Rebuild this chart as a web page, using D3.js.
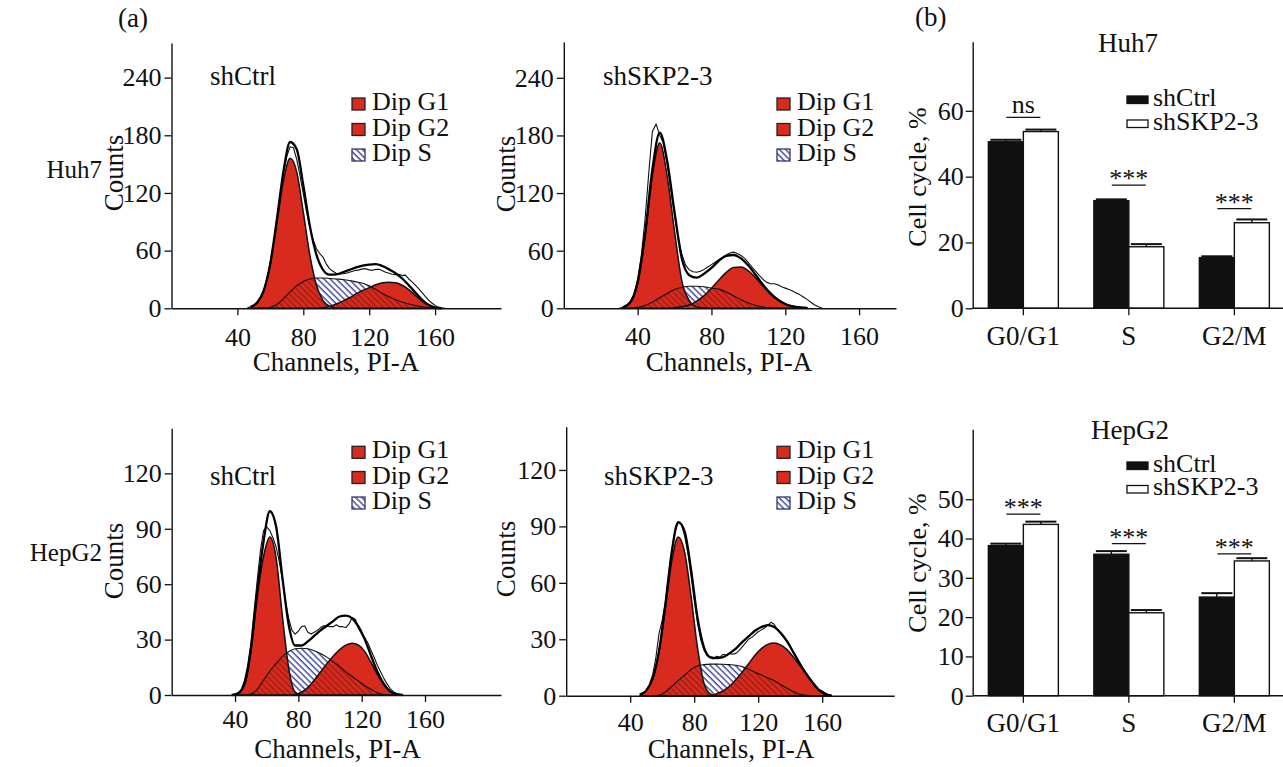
<!DOCTYPE html>
<html>
<head>
<meta charset="utf-8">
<script src="https://cdn.jsdelivr.net/npm/d3@7"></script>
<style>
  html, body { margin: 0; padding: 0; background: #fff; }
  svg { display: block; }
</style>
</head>
<body>
<svg id="fig" width="1283" height="767"></svg>
<script>
// ---------- DNA histograms (ModFit-style deconvolution) ----------
const channelTicks = [40, 80, 120, 160];
const huh7CountTicks = [0, 60, 120, 180, 240];
const hepCountTicks = [0, 30, 60, 90, 120];
const legendLabels = ['Dip G1', 'Dip G2', 'Dip S'];
const rowLabels = ['Huh7', 'HepG2'];

// Huh7 shCtrl
const huh7CtrlCh  = [48,52,56,60,64,68,72,76,80,84,88,92,96,100,104,108,112,116,120,124,128,132,136,140,144,148,152,156,160,164];
const huh7CtrlG1  = [1.4,6,18.5,46,89,133,156,142,100,55,24,8,2,0.3,0,0,0,0,0,0,0,0,0,0,0,0,0,0,0,0];
const huh7CtrlS   = [0,0,0,1,4,10,17,23.5,28,30.5,31.5,31.5,31,30.5,30,29,27.5,26,23.5,19.5,15.5,12,9,6.5,4.5,3,1.6,0.6,0,0];
const huh7CtrlG2  = [0,0,0,0,0,0,0,0,0,0,0,0.5,2,4.5,7.5,11,15,18.5,21.5,24.5,26.5,27,26.5,24,19.5,13.5,7.5,3,0.8,0];
const huh7CtrlFit = [1.4,6,18.5,47,93,143,173,165.5,128,85.5,55.5,40,35,35.3,37.5,40,42.5,44.5,45.5,46,44,40.5,36.5,31,24,16.5,9.1,3.6,0.8,0];
const huh7CtrlRawCh = [46,48,50,52,54,56,58,60,62,64,66,68,70,72,74,76,78,80,82,84,86,88,90,92,94,96,98,100,102,104,106,108,110,112,114,116,118,120,122,124,126,128,130,132,134,136,138,140,142,144,146,148,150,152,154,156,158,160,162,164,166];
const huh7CtrlRaw   = [0.5,1.5,3,6,11,19,31,47,69,93,119,141,158,168,167,155,138,119,100,84,71,62,57,53,46,41,38.5,36.5,35.5,36,36.5,37.5,38.5,39.5,40,41,41,40,39.5,40.5,40.5,39,37.5,36.5,35.5,35,35.5,34,34.5,30.5,27.5,24,20.5,16.5,12.5,8.5,5.5,3,1.2,0.5,0];

// Huh7 shSKP2-3
const huh7SkpCh  = [32,36,40,44,48,52,56,60,64,68,72,76,80,84,88,92,96,100,104,108,112,116,120,124,128,132];
const huh7SkpG1  = [0.9,6,26,74,138,172,138,80,28,8,1.5,0.2,0,0,0,0,0,0,0,0,0,0,0,0,0,0];
const huh7SkpS   = [0,0,1,3,6.5,11,15.5,19.5,22,23,23,22.5,21,20,17,13,9,5.5,3,1.4,0.6,0.2,0,0,0,0];
const huh7SkpG2  = [0,0,0,0,0,0,0,0.6,1.5,3.5,7.5,13.2,20.9,29.5,37.4,42.4,43,39,31.7,23,15,8.7,4.5,2.1,0.9,0.3];
const huh7SkpFit = [0.9,6,27,77,144.5,183,153.5,100,51.5,34.5,32,36,42,49.5,54.5,55.5,52,44.5,34.7,24.4,15.6,8.9,4.5,2.1,0.9,0.3];
const huh7SkpRawCh = [30,32,34,36,38,40,42,44,46,48,50,52,54,56,58,60,62,64,66,68,70,72,74,76,78,80,82,84,86,88,90,92,94,96,98,100,102,104,106,108,110,112,114,116,118,120,122,124,126,128,130,132,134,136,138,140];
const huh7SkpRaw   = [0,1,3,7,15,30,55,92,140,184,192,180,172,150,124,98,73,56,45,40,38,37.5,38.5,40.5,43,45.5,48,50.5,53,55.5,57.5,58.5,57,55,52,47.5,43,38.5,34,30,27,25.5,25.5,24.5,22.5,21,19.5,18,16,14,11.5,9,6,3.5,1.5,0];

// HepG2 shCtrl
const hepCtrlCh  = [38,42,46,50,54,58,62,66,70,74,78,82,86,90,94,98,102,106,110,114,118,122,126,130,134,138,142,146];
const hepCtrlG1  = [0,1,6,24,53,75,85.5,74,42,14,1.5,0,0,0,0,0,0,0,0,0,0,0,0,0,0,0,0,0];
const hepCtrlS   = [0,0,0,0.5,3,8,13,17,21,23.5,25,25.3,25,24,22.5,20.5,18,15.5,12.5,10,7.5,5,3,1.2,0.3,0,0,0];
const hepCtrlG2  = [0,0,0,0,0,0,0,0,0,0,0.3,1.5,4,8,12.5,17,21,24.5,27,28,27,23.5,17.5,11,5.5,2,0.5,0];
const hepCtrlFit = [0,1,6,24.5,56,83,99.5,91,63,37.5,26.8,26.8,29,32,35,37.5,40,42.5,43,41.5,37,30,21,12.5,6,2,0.5,0];
const hepCtrlRawCh = [40,42,44,46,48,50,52,54,56,58,60,62,64,66,68,70,72,74,76,78,80,82,84,86,88,90,92,94,96,98,100,102,104,106,108,110,112,114,116,118,120,122,124,126,128,130,132,134,136,138,140,142,144,146];
const hepCtrlRaw   = [0,1,3,8,16,28,45,62,78,89,91,89,85,80,72,62,50,41,35,33,34.5,37,37.5,34,33,34,35,36.5,37.5,37.5,37,37,38,37,37,36.5,38.5,42,41,36,33,31,28,24,20,16,12.5,9,6,3.5,1.8,0.8,0.3,0];

// HepG2 shSKP2-3
const hepSkpCh  = [46,50,54,58,62,66,70,74,78,82,86,90,94,98,102,106,110,114,118,122,126,130,134,138,142,146,150,154,158,162,166];
const hepSkpG1  = [0.6,2.7,9,23.4,46.6,71.6,84.3,76.4,53.2,26,7,1,0,0,0,0,0,0,0,0,0,0,0,0,0,0,0,0,0,0,0];
const hepSkpS   = [0,0,0,0.3,2,5,8,11,14,15.8,16.5,16.8,16.8,16.7,16.5,16.2,15.5,14,12.5,11,9.5,8,6,4,2.2,0.8,0.2,0,0,0,0];
const hepSkpG2  = [0,0,0,0,0,0,0,0,0,0,0,0,1,2.5,5,8.5,12.5,17,21.5,25,27.3,28,27,24.5,20.5,16,11.5,7,3,0.8,0];
const hepSkpFit = [0.6,2.7,9,23.7,48.6,76.6,92.3,87.4,67.2,41.8,26,20.5,20,20.5,22.5,25,28.5,31.5,34.5,36.5,37.5,36.5,33.5,29,23,17,11.7,7,3,0.8,0];
const hepSkpRawCh = [46,48,50,52,54,56,58,60,62,64,66,68,70,72,74,76,78,80,82,84,86,88,90,92,94,96,98,100,102,104,106,108,110,112,114,116,118,120,122,124,126,128,130,132,134,136,138,140,142,144,146,148,150,152,154,156,158,160,162,164,166];
const hepSkpRaw   = [0,1,3,6,11,20,33,40,50,64,77,87,92,91,85,76,64,51,39,30,24.5,21.5,20,19.5,21,20.5,22,21.5,22.5,22,22.5,24,26,28,30,31,32.5,34,35,36,37.5,39,38,35,33,31,28.5,26,23,20.5,17.5,14.5,11.5,9,7,5,3.5,2.5,1.5,0.5,0];

// ---------- Cell-cycle bar charts ----------
const phases = ['G0/G1', 'S', 'G2/M'];
const groups = ['shCtrl', 'shSKP2-3'];
const huh7Ctrl = [50.6, 32.7, 15.4];
const huh7CtrlErr = [0.6, 0.4, 0.4];
const huh7Skp = [53.7, 18.7, 26.0];
const huh7SkpErr = [0.6, 0.8, 1.0];
const huh7Sig = ['ns', '***', '***'];
const huh7SigAt = [58, 37.4, 30.3];
const huh7PctTicks = [0, 20, 40, 60];

const hepCtrl = [38.2, 36.0, 25.1];
const hepCtrlErr = [0.5, 0.8, 1.0];
const hepSkp = [43.6, 21.1, 34.3];
const hepSkpErr = [0.7, 0.7, 0.7];
const hepSig = ['***', '***', '***'];
const hepSigAt = [46.2, 38.7, 36.1];
const hepPctTicks = [0, 10, 20, 30, 40, 50];

// ---------- drawing ----------
const RED = '#d82a1e';
const FONT = '"Liberation Serif", "Times New Roman", serif';
const INK = '#111';

const svg = d3.select('#fig').attr('font-family', FONT);
const defs = svg.append('defs');

function hatch(id, color, bg, w) {
  const s = 4.4;
  const p = defs.append('pattern').attr('id', id)
    .attr('patternUnits', 'userSpaceOnUse')
    .attr('width', s).attr('height', s)
    .attr('patternTransform', 'rotate(-45)');
  if (bg) p.append('rect').attr('width', s).attr('height', s).attr('fill', bg);
  p.append('line').attr('x1', 1).attr('y1', 0).attr('x2', 1).attr('y2', s)
    .attr('stroke', color).attr('stroke-width', w);
}
hatch('hatchBlue', '#2f3393', '#fff', 1.3);
hatch('hatchRed', '#86170f', null, 1.0);

function txt(g, x, y, s, size, anchor) {
  return g.append('text').attr('x', x).attr('y', y).text(s)
    .attr('font-size', size).attr('fill', INK)
    .attr('text-anchor', anchor || 'start');
}

function styleAxis(ax, size) {
  ax.attr('font-family', FONT).attr('font-size', size);
  ax.select('.domain').attr('stroke', INK).attr('stroke-width', 1.4);
  ax.selectAll('.tick line').attr('stroke', INK).attr('stroke-width', 1.3);
  ax.selectAll('.tick text').attr('fill', INK);
}

function drawHist(d, L) {
  const x = d3.scaleLinear().domain([0, L.xMax]).range([L.left, L.right]);
  const y = d3.scaleLinear().domain([0, L.yMax]).range([L.bottom, L.top]);
  const g = svg.append('g');
  const pts = d.ch.map((c, i) => ({ c, g1: d.g1[i], s: d.s[i], g2: d.g2[i], fit: d.fit[i] }));
  const area = k => d3.area().curve(d3.curveMonotoneX)
    .x(p => x(p.c)).y0(y(0)).y1(p => y(p[k]))(pts);
  const line = k => d3.line().curve(d3.curveMonotoneX)
    .x(p => x(p.c)).y(p => y(p[k]))(pts);

  // S phase (hatched), then G1 / G2 in red, then S hatching over the red overlap
  g.append('path').attr('d', area('s')).attr('fill', 'url(#hatchBlue)');
  g.append('path').attr('d', area('g1')).attr('fill', RED);
  g.append('path').attr('d', area('g2')).attr('fill', RED);
  const clipId = L.id + '-gclip';
  const cp = defs.append('clipPath').attr('id', clipId);
  cp.append('path').attr('d', area('g1'));
  cp.append('path').attr('d', area('g2'));
  g.append('path').attr('d', area('s')).attr('fill', 'url(#hatchRed)')
    .attr('clip-path', `url(#${clipId})`);

  // component outlines
  [['s', 1.1], ['g1', 1.5], ['g2', 1.5]].forEach(([k, w]) => {
    g.append('path').attr('d', line(k)).attr('fill', 'none')
      .attr('stroke', INK).attr('stroke-width', w);
  });

  // raw histogram
  const raw = d.rawCh.map((c, i) => [c, d.raw[i]]);
  g.append('path').attr('d', d3.line().x(p => x(p[0])).y(p => y(p[1]))(raw))
    .attr('fill', 'none').attr('stroke', INK).attr('stroke-width', 1.1)
    .attr('stroke-linejoin', 'round');

  // model fit
  g.append('path').attr('d', line('fit')).attr('fill', 'none')
    .attr('stroke', '#000').attr('stroke-width', 2.3);

  // axes
  const ax = g.append('g').attr('transform', `translate(0,${L.bottom})`)
    .call(d3.axisBottom(x).tickValues(channelTicks).tickSize(7).tickSizeOuter(0));
  styleAxis(ax, 26);
  ax.selectAll('.tick text').attr('y', L.xTickY - L.bottom).attr('dy', 0);

  const ay = g.append('g').attr('transform', `translate(${L.left},0)`)
    .call(d3.axisLeft(y).tickValues(L.yTicks).tickSize(7).tickSizeOuter(0).tickPadding(3));
  styleAxis(ay, 26);

  txt(g, L.xLabelX, L.xLabelY, 'Channels, PI-A', 27, 'middle');
  txt(g, 0, 0, 'Counts', 27, 'middle')
    .attr('transform', `translate(${L.yLabelX},${L.yLabelY}) rotate(-90)`);

  txt(g, L.titleX, L.titleY, L.title, 27);

  legendLabels.forEach((s, i) => {
    const by = L.legendY[i];
    g.append('rect').attr('x', L.legendX).attr('y', by - 12).attr('width', 13).attr('height', 12)
      .attr('fill', i < 2 ? RED : 'url(#hatchBlue)')
      .attr('stroke', i < 2 ? '#222' : '#33346a').attr('stroke-width', 1.3);
    txt(g, L.legendX + 20, by, s, 26);
  });
}

function drawBars(d, L) {
  const x0 = d3.scaleBand().domain(phases).range([L.bandLeft, L.bandRight]);
  const x1 = d3.scaleBand().domain(groups).range([-35, 35]);
  const y = d3.scaleLinear().domain([0, L.yMax]).range([L.bottom, L.top]);
  const g = svg.append('g');
  const cx = p => x0(p) + x0.bandwidth() / 2;

  const series = [
    { key: groups[0], vals: d.ctrl, err: d.ctrlErr, fill: '#111' },
    { key: groups[1], vals: d.skp, err: d.skpErr, fill: '#fff' }
  ];
  series.forEach(s => {
    phases.forEach((p, i) => {
      const bx = cx(p) + x1(s.key);
      const bw = x1.bandwidth();
      g.append('rect').attr('x', bx).attr('y', y(s.vals[i]))
        .attr('width', bw).attr('height', y(0) - y(s.vals[i]))
        .attr('fill', s.fill).attr('stroke', INK).attr('stroke-width', 1.4);
      const top = y(s.vals[i] + s.err[i]);
      g.append('line').attr('x1', bx + bw / 2).attr('x2', bx + bw / 2)
        .attr('y1', y(s.vals[i])).attr('y2', top)
        .attr('stroke', INK).attr('stroke-width', 1.4);
      g.append('line').attr('x1', bx + 2).attr('x2', bx + bw - 2)
        .attr('y1', top).attr('y2', top)
        .attr('stroke', INK).attr('stroke-width', 2);
    });
  });

  // significance brackets
  phases.forEach((p, i) => {
    const ly = y(d.sigAt[i]);
    g.append('line').attr('x1', cx(p) - 17).attr('x2', cx(p) + 17)
      .attr('y1', ly).attr('y2', ly).attr('stroke', INK).attr('stroke-width', 1.3);
    const star = d.sig[i] !== 'ns';
    txt(g, cx(p), star ? ly + 2 : ly - 4, d.sig[i], 26, 'middle');
  });

  // axes
  const ay = g.append('g').attr('transform', `translate(${L.axisX},0)`)
    .call(d3.axisLeft(y).tickValues(d.ticks).tickSize(7).tickSizeOuter(0).tickPadding(2));
  styleAxis(ay, 26);

  const ax = g.append('g').attr('transform', `translate(0,${L.bottom})`)
    .call(d3.axisBottom(x0).tickSize(7).tickSizeOuter(0));
  styleAxis(ax, 27);
  ax.select('.domain').remove();
  ax.selectAll('.tick text').attr('y', L.catY - L.bottom).attr('dy', 0);
  g.append('line').attr('x1', L.axisX).attr('x2', L.axisRight)
    .attr('y1', L.bottom).attr('y2', L.bottom)
    .attr('stroke', INK).attr('stroke-width', 1.4);

  txt(g, 0, 0, 'Cell cycle, %', 26, 'middle')
    .attr('transform', `translate(${L.yLabelX},${L.yLabelY}) rotate(-90)`);
  txt(g, L.titleX, L.titleY, d.title, 27, 'middle');

  // legend
  series.forEach((s, i) => {
    const ly = L.legendY[i];
    g.append('rect').attr('x', L.legendX).attr('y', ly - 9.5).attr('width', 21).attr('height', 7.5)
      .attr('fill', s.fill).attr('stroke', INK).attr('stroke-width', 1.3);
    txt(g, L.legendX + 26, ly, s.key, 26);
  });
}

// histogram panels
drawHist(
  { ch: huh7CtrlCh, g1: huh7CtrlG1, s: huh7CtrlS, g2: huh7CtrlG2, fit: huh7CtrlFit, rawCh: huh7CtrlRawCh, raw: huh7CtrlRaw },
  { id: 'h1', left: 171.5, right: 501, xMax: 200, bottom: 308.3, top: 43, yMax: 276, yTicks: huh7CountTicks,
    xTickY: 346, xLabelX: 336, xLabelY: 371, yLabelX: 122.5, yLabelY: 173,
    title: 'shCtrl', titleX: 210, titleY: 85, legendX: 352, legendY: [110, 135.5, 161] });
drawHist(
  { ch: huh7SkpCh, g1: huh7SkpG1, s: huh7SkpS, g2: huh7SkpG2, fit: huh7SkpFit, rawCh: huh7SkpRawCh, raw: huh7SkpRaw },
  { id: 'h2', left: 563.8, right: 896, xMax: 180, bottom: 308.3, top: 42, yMax: 277.3, yTicks: huh7CountTicks,
    xTickY: 345, xLabelX: 729, xLabelY: 371, yLabelX: 514.5, yLabelY: 174,
    title: 'shSKP2-3', titleX: 603, titleY: 85, legendX: 777, legendY: [110, 135.5, 161] });
drawHist(
  { ch: hepCtrlCh, g1: hepCtrlG1, s: hepCtrlS, g2: hepCtrlG2, fit: hepCtrlFit, rawCh: hepCtrlRawCh, raw: hepCtrlRaw },
  { id: 'h3', left: 171.7, right: 501, xMax: 208, bottom: 695, top: 428.3, yMax: 144.4, yTicks: hepCountTicks,
    xTickY: 728, xLabelX: 337.5, xLabelY: 758, yLabelX: 122.5, yLabelY: 561,
    title: 'shCtrl', titleX: 210, titleY: 485, legendX: 352, legendY: [458.3, 483.5, 509] });
drawHist(
  { ch: hepSkpCh, g1: hepSkpG1, s: hepSkpS, g2: hepSkpG2, fit: hepSkpFit, rawCh: hepSkpRawCh, raw: hepSkpRaw },
  { id: 'h4', left: 566.2, right: 894.2, xMax: 205, bottom: 695.7, top: 426.7, yMax: 143, yTicks: hepCountTicks,
    xTickY: 731, xLabelX: 731, xLabelY: 758, yLabelX: 514.5, yLabelY: 559,
    title: 'shSKP2-3', titleX: 604, titleY: 485, legendX: 777, legendY: [458.3, 483.5, 509] });

// bar panels
drawBars(
  { ctrl: huh7Ctrl, ctrlErr: huh7CtrlErr, skp: huh7Skp, skpErr: huh7SkpErr, sig: huh7Sig, sigAt: huh7SigAt,
    ticks: huh7PctTicks, title: 'Huh7' },
  { bandLeft: 970.6, bandRight: 1287.1, axisX: 972.7, axisRight: 1283, bottom: 308.3, top: 41.7, yMax: 81,
    catY: 345, yLabelX: 926, yLabelY: 177, titleX: 1128, titleY: 51.5,
    legendX: 1127, legendY: [105.5, 129.5] });
drawBars(
  { ctrl: hepCtrl, ctrlErr: hepCtrlErr, skp: hepSkp, skpErr: hepSkpErr, sig: hepSig, sigAt: hepSigAt,
    ticks: hepPctTicks, title: 'HepG2' },
  { bandLeft: 970.6, bandRight: 1287.1, axisX: 972.7, axisRight: 1283, bottom: 695.7, top: 429.3, yMax: 67.8,
    catY: 732, yLabelX: 926, yLabelY: 563, titleX: 1130, titleY: 439,
    legendX: 1127, legendY: [471.5, 495] });

// panel letters and row labels (right-aligned next to the count axis titles)
txt(svg, 118, 27, '(a)', 27);
txt(svg, 915, 26, '(b)', 27);
txt(svg, 102, 178, rowLabels[0], 25, 'end');
txt(svg, 102, 561, rowLabels[1], 25, 'end');
</script>
</body>
</html>
